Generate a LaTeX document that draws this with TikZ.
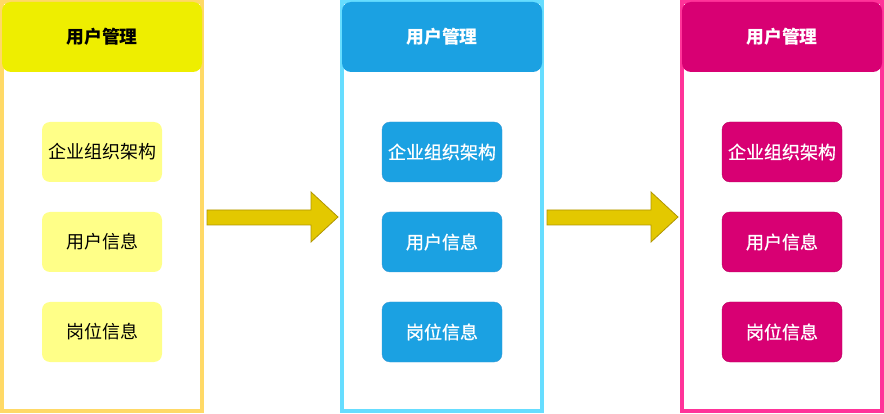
\documentclass[tikz,border=0pt]{standalone}
\usepackage{fontspec}
\newfontfamily\cjk{Noto Sans CJK SC}
\newfontfamily\cjkw[FakeBold=0.8]{Noto Sans CJK SC}
\definecolor{frameA}{HTML}{FFD966}
\definecolor{headA}{HTML}{EEEE00}
\definecolor{boxA}{HTML}{FFFF88}
\definecolor{frameB}{HTML}{66DDFF}
\definecolor{headB}{HTML}{1BA1E2}
\definecolor{lineB}{HTML}{3A9AD6}
\definecolor{frameC}{HTML}{FF3399}
\definecolor{headC}{HTML}{D80073}
\definecolor{lineC}{HTML}{B8005F}
\definecolor{arrowfill}{HTML}{E3C800}
\definecolor{arrowline}{HTML}{B09500}
\tikzset{
  frame/.style={draw,line width=4pt,minimum width=200pt,minimum height=409pt,inner sep=0pt},
  head/.style={rounded corners=9pt,minimum width=200pt,minimum height=70pt,inner sep=0pt,font=\cjk\bfseries\fontsize{17.8}{20}\selectfont},
  item/.style={rounded corners=8pt,minimum width=120pt,minimum height=60pt,inner sep=0pt,font=\cjk\fontsize{18}{20}\selectfont},
  whiteitem/.style={item,text=white,font=\cjkw\fontsize{18}{20}\selectfont},
  blockarrow/.style={fill=arrowfill,draw=arrowline,line width=0.8pt}
}
\begin{document}
\begin{tikzpicture}[x=1pt,y=-1pt]
	\useasboundingbox (0,0) rectangle (884,414);

	%frames
	\node[frame,draw=frameA] (f1) at (102,206.5) {};
	\node[frame,draw=frameB] (f2) at (442,206.5) {};
	\node[frame,draw=frameC] (f3) at (782,206.5) {};

	%headers
	\node[head,fill=headA] (h1) at (102,37) {用户管理};
	\node[head,fill=headB,text=white] (h2) at (442,37) {用户管理};
	\node[head,fill=headC,text=white] (h3) at (782,37) {用户管理};

	%first column
	\node[item,fill=boxA] (a1) at (102,152) {企业组织架构};
	\node[item,fill=boxA] (a2) at (102,242) {用户信息};
	\node[item,fill=boxA] (a3) at (102,332) {岗位信息};

	%second column
	\node[whiteitem,fill=headB,draw=lineB] (b1) at (442,152) {企业组织架构};
	\node[whiteitem,fill=headB,draw=lineB] (b2) at (442,242) {用户信息};
	\node[whiteitem,fill=headB,draw=lineB] (b3) at (442,332) {岗位信息};

	%third column
	\node[whiteitem,fill=headC,draw=lineC] (c1) at (782,152) {企业组织架构};
	\node[whiteitem,fill=headC,draw=lineC] (c2) at (782,242) {用户信息};
	\node[whiteitem,fill=headC,draw=lineC] (c3) at (782,332) {岗位信息};

	%arrows
	\draw[blockarrow] (207,210) -- (311,210) -- (311,192) -- (338,217) -- (311,242) -- (311,225) -- (207,225) -- cycle; %f1 to f2
	\draw[blockarrow] (547,210) -- (651,210) -- (651,192) -- (678,217) -- (651,242) -- (651,225) -- (547,225) -- cycle; %f2 to f3
\end{tikzpicture}
\end{document}
